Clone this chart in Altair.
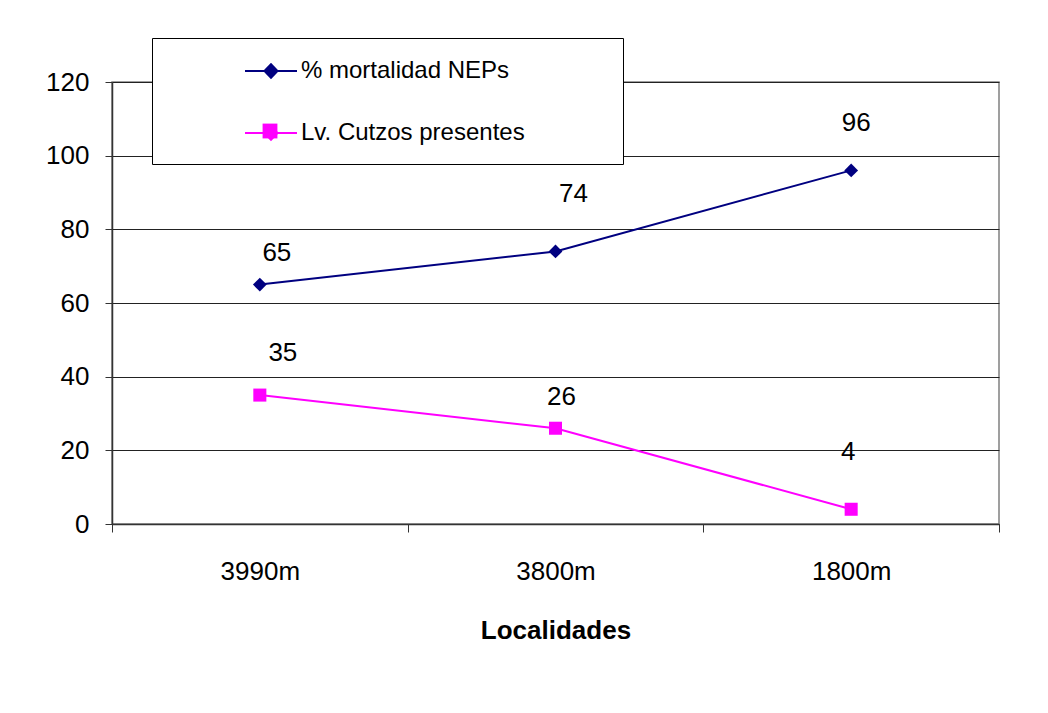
import altair as alt
import pandas as pd

categories = ["3990m", "3800m", "1800m"]
mortalidad = [65, 74, 96]
cutzos = [35, 26, 4]
series_names = ["% mortalidad NEPs", "Lv. Cutzos presentes"]
colors = ["#000080", "#FF00FF"]

rows = []
for i, c in enumerate(categories):
    rows.append({"cat": c, "series": series_names[0], "value": mortalidad[i], "idx": i})
    rows.append({"cat": c, "series": series_names[1], "value": cutzos[i], "idx": i})
df = pd.DataFrame(rows)

FONT = "Liberation Sans"

x_enc = alt.X(
    "cat:N",
    sort=categories,
    scale=alt.Scale(paddingInner=0, paddingOuter=0),
    axis=alt.Axis(
        title="Localidades",
        titleFont=FONT, titleFontSize=26, titleFontWeight="bold", titleColor="black",
        titlePadding=33,
        labelAngle=0, labelFont=FONT, labelFontSize=26, labelColor="black",
        labelPadding=26,
        tickBand="extent", tickSize=8, tickColor="#333333", tickWidth=1,
        domainColor="#333333", domainWidth=1.5, grid=False,
    ),
)
y_enc = alt.Y(
    "value:Q",
    scale=alt.Scale(domain=[0, 120], nice=False),
    axis=alt.Axis(
        title=None, values=[0, 20, 40, 60, 80, 100, 120],
        labelFont=FONT, labelFontSize=26, labelColor="black", labelPadding=16,
        tickSize=7, tickColor="#333333", domainColor="#333333", domainWidth=1.5,
        grid=True, gridColor="#222222", gridWidth=1, gridOpacity=1,
    ),
)
color_scale = alt.Scale(domain=series_names, range=colors)

# legend symbols: line stub with a diamond; square overlay for the 2nd entry
path_a = "M-2,0H2M-0.5,0L0,-0.52L0.5,0L0,0.52Z"
path_b = "M-0.57,-0.57H0.57V0.57H-0.57Z"

leg_main = alt.Legend(
    title=".", titleColor="white", titleOrient="right", titlePadding=72,
    titleFont=FONT, titleFontSize=24,
    orient="none", legendX=40, legendY=-44,
    fillColor="white", strokeColor="black", padding=19,
    labelFont=FONT, labelFontSize=24, labelColor="black", labelLimit=600,
    labelOffset=16, symbolType=path_a, symbolSize=676, symbolStrokeWidth=2,
    rowPadding=36, symbolOffset=86,
)

leg_square = alt.Legend(
    title=None, orient="none", legendX=145, legendY=36, padding=0,
    symbolType=path_b, symbolSize=676, symbolFillColor="#FF00FF",
    symbolStrokeColor="#FF00FF", symbolStrokeWidth=0, labelOpacity=0,
    labelExpr="''", symbolOpacity=1, zindex=2,
)

base = alt.Chart(df)

lines = base.mark_line(strokeWidth=2).encode(
    x=x_enc, y=y_enc,
    color=alt.Color("series:N", scale=color_scale, legend=leg_main),
    detail="series:N",
)

diamonds = base.transform_filter(
    alt.datum.series == series_names[0]
).mark_point(shape="diamond", filled=True, size=190, opacity=1).encode(
    x=x_enc, y=y_enc,
    color=alt.Color("series:N", scale=color_scale, legend=None),
)

squares = base.transform_filter(
    alt.datum.series == series_names[1]
).mark_point(shape="square", filled=True, size=170, opacity=1).encode(
    x=x_enc, y=y_enc,
    fill=alt.Fill("series:N",
                  scale=alt.Scale(domain=[series_names[1]], range=[colors[1]]),
                  legend=leg_square),
)

# per-label offsets (style), as placed in the original chart
offsets = {
    (0, 0): (17, -32), (0, 1): (18, -57), (0, 2): (5, -47),
    (1, 0): (23, -42), (1, 1): (6, -31), (1, 2): (-3, -57),
}
text_layers = []
for (s, i), (dx, dy) in offsets.items():
    t = base.transform_filter(
        (alt.datum.series == series_names[s]) & (alt.datum.idx == i)
    ).mark_text(font=FONT, fontSize=26, color="black", dx=dx, dy=dy,
                baseline="middle", align="center").encode(
        x=x_enc, y=y_enc, text="value:Q"
    )
    text_layers.append(t)

chart = alt.layer(lines, diamonds, squares, *text_layers).properties(
    width=887, height=442,
    autosize=alt.AutoSizeParams(type="none"),
    padding={"left": 104, "top": 74, "right": 41, "bottom": 181},
    background="white",
).configure_view(stroke="#808080", strokeWidth=1.5)

chart.save("out.html", embed_options={"renderer": "svg", "actions": False})
